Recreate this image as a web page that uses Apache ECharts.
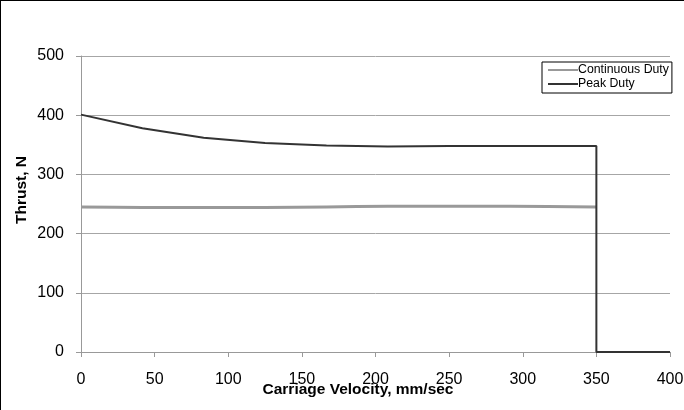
<!DOCTYPE html>
<html><head><meta charset="utf-8">
<script src="https://cdn.jsdelivr.net/npm/echarts@6/dist/echarts.min.js"></script>
<style>html,body{margin:0;padding:0;background:#fff}
#wrap{position:relative;width:684px;height:410px}
#c{width:684px;height:410px}
#frame{position:absolute;left:0;top:0;width:684px;height:410px;box-sizing:border-box;border-left:1px solid #000;border-top:1px solid #000;pointer-events:none}</style>
</head><body><div id="wrap"><div id="c"></div><div id="frame"></div></div>
<script>
const xTicks = [0, 50, 100, 150, 200, 250, 300, 350, 400];
const yTicks = [0, 100, 200, 300, 400, 500];
const contX = [0, 41.7, 83.3, 125, 166.7, 208.3, 250, 291.7, 350];
const contY = [245, 244, 244, 244, 245, 246, 246, 246, 245];
const peakX = [0, 41.7, 83.3, 125, 166.7, 208.3, 250, 291.7, 350, 350, 383.3, 400];
const peakY = [401, 378, 362, 353, 349, 347, 348, 348, 348, 0, 0, 0];
const names = ['Continuous Duty', 'Peak Duty'];

const chart = echarts.init(document.getElementById('c'));
const font = 'Liberation Sans, Arial, sans-serif';
chart.setOption({
  animation: false,
  grid: {left: 81, right: 14, top: 56, bottom: 58, outerBoundsMode: 'none', containLabel: false},
  legend: {
    data: [
      {name: names[0], itemStyle: {color: '#999'}},
      {name: names[1], itemStyle: {color: '#333'}}
    ],
    orient: 'vertical', left: 542, top: 62,
    icon: 'rect', itemWidth: 30, itemHeight: 2, itemGap: 2,
    borderColor: '#000', borderWidth: 1, borderRadius: 0, padding: [2, 3, 3, 6],
    textStyle: {fontFamily: font, fontSize: 12.3, color: '#000', padding: [0, 0, 0, -5]}
  },
  xAxis: {
    type: 'value', min: 0, max: 400, interval: 50,
    name: 'Carriage Velocity, mm/sec', nameLocation: 'middle', nameGap: 30, nameMoveOverlap: false,
    nameTextStyle: {fontFamily: font, fontSize: 15.5, fontWeight: 'bold', color: '#000', padding: [0, 35, 0, 0]},
    axisLine: {show: true, lineStyle: {color: '#999', width: 1}},
    axisTick: {show: true, length: 5, lineStyle: {color: '#999'}},
    axisLabel: {fontFamily: font, fontSize: 16, color: '#000', margin: 20,
      formatter: v => xTicks.includes(v) ? String(v) : ''},
    splitLine: {show: false}
  },
  yAxis: {
    type: 'value', min: 0, max: 500, interval: 100,
    name: 'Thrust, N', nameLocation: 'middle', nameGap: 51, nameRotate: 90, nameMoveOverlap: false,
    nameTextStyle: {fontFamily: font, fontSize: 15.5, fontWeight: 'bold', color: '#000', padding: [0, 0, 0, 28]},
    axisLine: {show: true, lineStyle: {color: '#999', width: 1}},
    axisTick: {show: true, length: 5, inside: false, lineStyle: {color: '#999'}},
    axisLabel: {fontFamily: font, fontSize: 16, color: '#000', margin: 17,
      formatter: v => yTicks.includes(v) ? String(v) : ''},
    splitLine: {show: true, lineStyle: {color: '#a6a6a6', width: 1}}
  },
  series: [
    {name: names[0], type: 'line', showSymbol: false, smooth: 0.3,
     lineStyle: {color: '#999', width: 3}, itemStyle: {color: '#999'},
     data: contX.map((x, i) => [x, contY[i]])},
    {name: names[1], type: 'line', showSymbol: false,
     lineStyle: {color: '#333', width: 2}, itemStyle: {color: '#333'},
     data: peakX.map((x, i) => [x, peakY[i]])}
  ]
});
</script></body></html>
